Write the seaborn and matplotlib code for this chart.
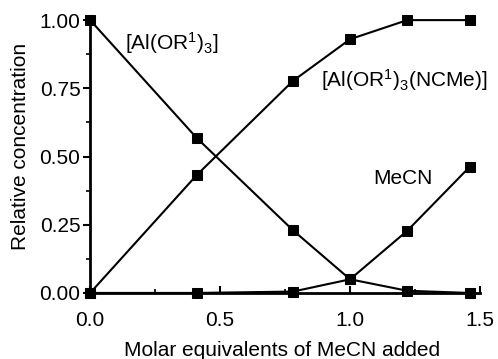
import matplotlib
matplotlib.use("Agg")
import matplotlib.pyplot as plt
import seaborn as sns
import pandas as pd

x_equiv = [0.0, 0.41, 0.78, 1.0, 1.22, 1.46]
al_or3 = [1.0, 0.568, 0.23, 0.05, 0.008, 0.0]
al_ncme = [0.0, 0.432, 0.777, 0.93, 1.0, 1.0]
mecn = [0.0, 0.0, 0.005, 0.05, 0.228, 0.462]

series_names = ["[Al(OR$^1$)$_3$]", "[Al(OR$^1$)$_3$(NCMe)]", "MeCN"]
series_vals = [al_or3, al_ncme, mecn]

rows = []
for name, vals in zip(series_names, series_vals):
    for xv, yv in zip(x_equiv, vals):
        rows.append({"x": xv, "y": yv, "series": name})
df = pd.DataFrame(rows)

sns.set_style("ticks")
plt.rcParams["font.family"] = ["Liberation Sans", "DejaVu Sans"]
plt.rcParams["mathtext.fontset"] = "custom"
plt.rcParams["mathtext.rm"] = "Liberation Sans"
plt.rcParams["mathtext.it"] = "Liberation Sans"
plt.rcParams["text.color"] = "black"
plt.rcParams["axes.labelcolor"] = "black"
plt.rcParams["xtick.color"] = "black"
plt.rcParams["ytick.color"] = "black"
plt.rcParams["axes.edgecolor"] = "black"

FS = 15

fig = plt.figure(figsize=(4.98, 3.59), dpi=100)
ax = fig.add_axes([0.181, 0.184, 0.783, 0.76])

sns.lineplot(data=df, x="x", y="y", hue="series", units="series", estimator=None,
             palette=["black"] * 3, marker="s", markersize=7, markeredgecolor="black",
             linewidth=1.5, legend=False, ax=ax, sort=False)
for line in ax.lines:
    line.set_clip_on(False)

ax.set_xlim(0, 1.5)
ax.set_ylim(0, 1.0)
ax.set_xticks([0.0, 0.5, 1.0, 1.5])
ax.set_xticklabels(["0.0", "0.5", "1.0", "1.5"])
ax.set_xticks([0.25, 0.75, 1.25], minor=True)
ax.set_yticks([0.0, 0.25, 0.5, 0.75, 1.0])
ax.set_yticklabels(["0.00", "0.25", "0.50", "0.75", "1.00"])
ax.set_yticks([0.125, 0.375, 0.625, 0.875], minor=True)

for s in ["top", "right"]:
    ax.spines[s].set_visible(False)
for s in ["left", "bottom"]:
    ax.spines[s].set_linewidth(2.0)

ax.tick_params(axis="both", which="major", labelsize=FS, width=1.5, length=5, pad=2)
ax.tick_params(axis="both", which="minor", width=1.2, length=3)
ax.tick_params(axis="x", which="both", direction="in")
ax.tick_params(axis="x", which="major", pad=13)
ax.tick_params(axis="y", which="both", direction="out")

ax.set_xlabel("Molar equivalents of MeCN added", fontsize=FS)
ax.set_ylabel("Relative concentration", fontsize=FS)
ax.xaxis.set_label_coords(0.492, -0.175)
ax.yaxis.set_label_coords(-0.155, 0.538)

ax.text(0.135, 0.915, series_names[0], fontsize=FS, va="center", ha="left")
ax.text(0.89, 0.78, series_names[1], fontsize=FS, va="center", ha="left")
ax.text(1.205, 0.418, series_names[2], fontsize=FS, va="center", ha="center")

fig.savefig("out.png", dpi=100)
